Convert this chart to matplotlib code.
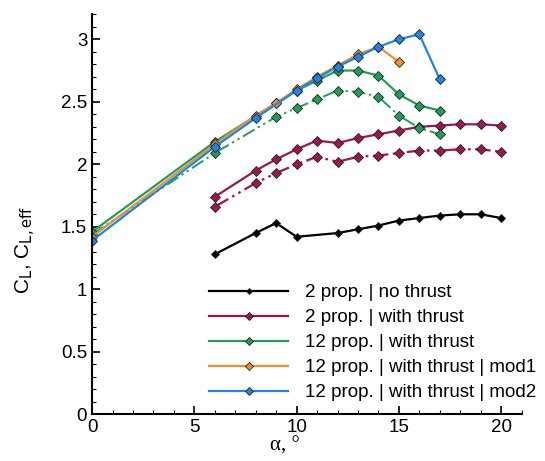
import numpy as np
import matplotlib.pyplot as plt
from matplotlib.ticker import MultipleLocator

plt.rcParams['font.family'] = ['Liberation Sans', 'DejaVu Sans']

# 2 prop. | no thrust
a_2p_nt = [6, 8, 9, 10, 12, 13, 14, 15, 16, 17, 18, 19, 20]
cl_2p_nt = [1.28, 1.45, 1.53, 1.42, 1.45, 1.48, 1.51, 1.55, 1.57, 1.59, 1.60, 1.60, 1.57]

# 2 prop. | with thrust  (solid = C_L, dash-dot = C_L,eff)
a_2p = [6, 8, 9, 10, 11, 12, 13, 14, 15, 16, 17, 18, 19, 20]
cl_2p = [1.74, 1.95, 2.04, 2.12, 2.19, 2.17, 2.21, 2.24, 2.27, 2.30, 2.31, 2.32, 2.32, 2.31]
cleff_2p = [1.66, 1.85, 1.93, 2.00, 2.06, 2.02, 2.06, 2.07, 2.09, 2.11, 2.11, 2.12, 2.12, 2.10]

# 12 prop. | with thrust
a_12p = [0, 6, 9, 10, 11, 12, 13, 14, 15, 16, 17]
cl_12p = [1.46, 2.18, 2.49, 2.59, 2.67, 2.75, 2.75, 2.71, 2.56, 2.47, 2.43]
cleff_12p = [1.44, 2.09, 2.38, 2.45, 2.52, 2.59, 2.58, 2.54, 2.39, 2.29, 2.24]

# 12 prop. | with thrust | mod1
a_mod1 = [0, 6, 8, 9, 10, 11, 12, 13, 14, 15]
cl_mod1 = [1.42, 2.16, 2.39, 2.49, 2.60, 2.70, 2.79, 2.88, 2.94, 2.82]

# 12 prop. | with thrust | mod2
a_mod2 = [0, 6, 8, 10, 11, 12, 13, 14, 15, 16, 17]
cl_mod2 = [1.39, 2.14, 2.37, 2.59, 2.69, 2.78, 2.86, 2.94, 3.00, 3.04, 2.68]

c_black = '#000000'
c_red = '#9e1650'
c_green = '#1f9e5a'
c_orange = '#f0902a'
c_blue = '#1f84e8'
dashdotdot = (0, (7, 2, 1.2, 2, 1.2, 2))

fig = plt.figure(figsize=(5.45, 4.61), dpi=100)
ax = fig.add_axes([0.169, 0.1013, 0.788, 0.8677])

mk = dict(marker='D', markeredgecolor='#222222', markeredgewidth=0.6)

ax.plot(a_2p_nt, cl_2p_nt, color=c_black, lw=1.6, ms=4, label='2 prop. | no thrust', **mk)
ax.plot(a_2p, cl_2p, color=c_red, lw=1.6, ms=5.5, label='2 prop. | with thrust', **mk)
ax.plot(a_2p, cleff_2p, color=c_red, lw=1.6, ms=5.5, ls=dashdotdot, **mk)
ax.plot(a_12p, cleff_12p, color=c_green, lw=1.4, ms=5.5, ls=dashdotdot, **mk)
ax.plot(a_12p, cl_12p, color=c_green, lw=1.6, ms=5.5, label='12 prop. | with thrust', **mk)
ax.plot(a_mod1, cl_mod1, color=c_orange, lw=1.6, ms=5.5, label='12 prop. | with thrust | mod1', **mk)
ax.plot(a_mod2, cl_mod2, color=c_blue, lw=1.6, ms=5.5, label='12 prop. | with thrust | mod2', **mk)

ax.set_xlim(0, 21)
ax.set_ylim(0, 3.2)
ax.set_xticks([0, 5, 10, 15, 20])
ax.set_yticks([0, 0.5, 1, 1.5, 2, 2.5, 3])
ax.set_yticklabels(['0', '0.5', '1', '1.5', '2', '2.5', '3'])
ax.xaxis.set_minor_locator(MultipleLocator(1))
ax.yaxis.set_minor_locator(MultipleLocator(0.1))
ax.tick_params(which='both', direction='in', labelsize=13.5, width=1.2)
ax.tick_params(which='major', length=6)
ax.tick_params(which='minor', length=3, width=0.8)
ax.spines['top'].set_visible(False)
ax.spines['right'].set_visible(False)
ax.spines['left'].set_linewidth(1.5)
ax.spines['bottom'].set_linewidth(1.5)

ax.set_xlabel('α, °', fontsize=15, family=['Liberation Serif'])
ax.xaxis.set_label_coords(0.449, -0.055)
ax.set_ylabel(r'C$_\mathrm{L}$, C$_\mathrm{L,eff}$', fontsize=15)
ax.yaxis.set_label_coords(-0.125, 0.41)

ax.legend(loc='lower right', bbox_to_anchor=(1.065, 0.0), frameon=False, fontsize=13.5,
          handlelength=4.2, handletextpad=0.9, labelspacing=0.42, borderpad=0.2,
          markerscale=0.75)

fig.savefig('out.png', dpi=100)
